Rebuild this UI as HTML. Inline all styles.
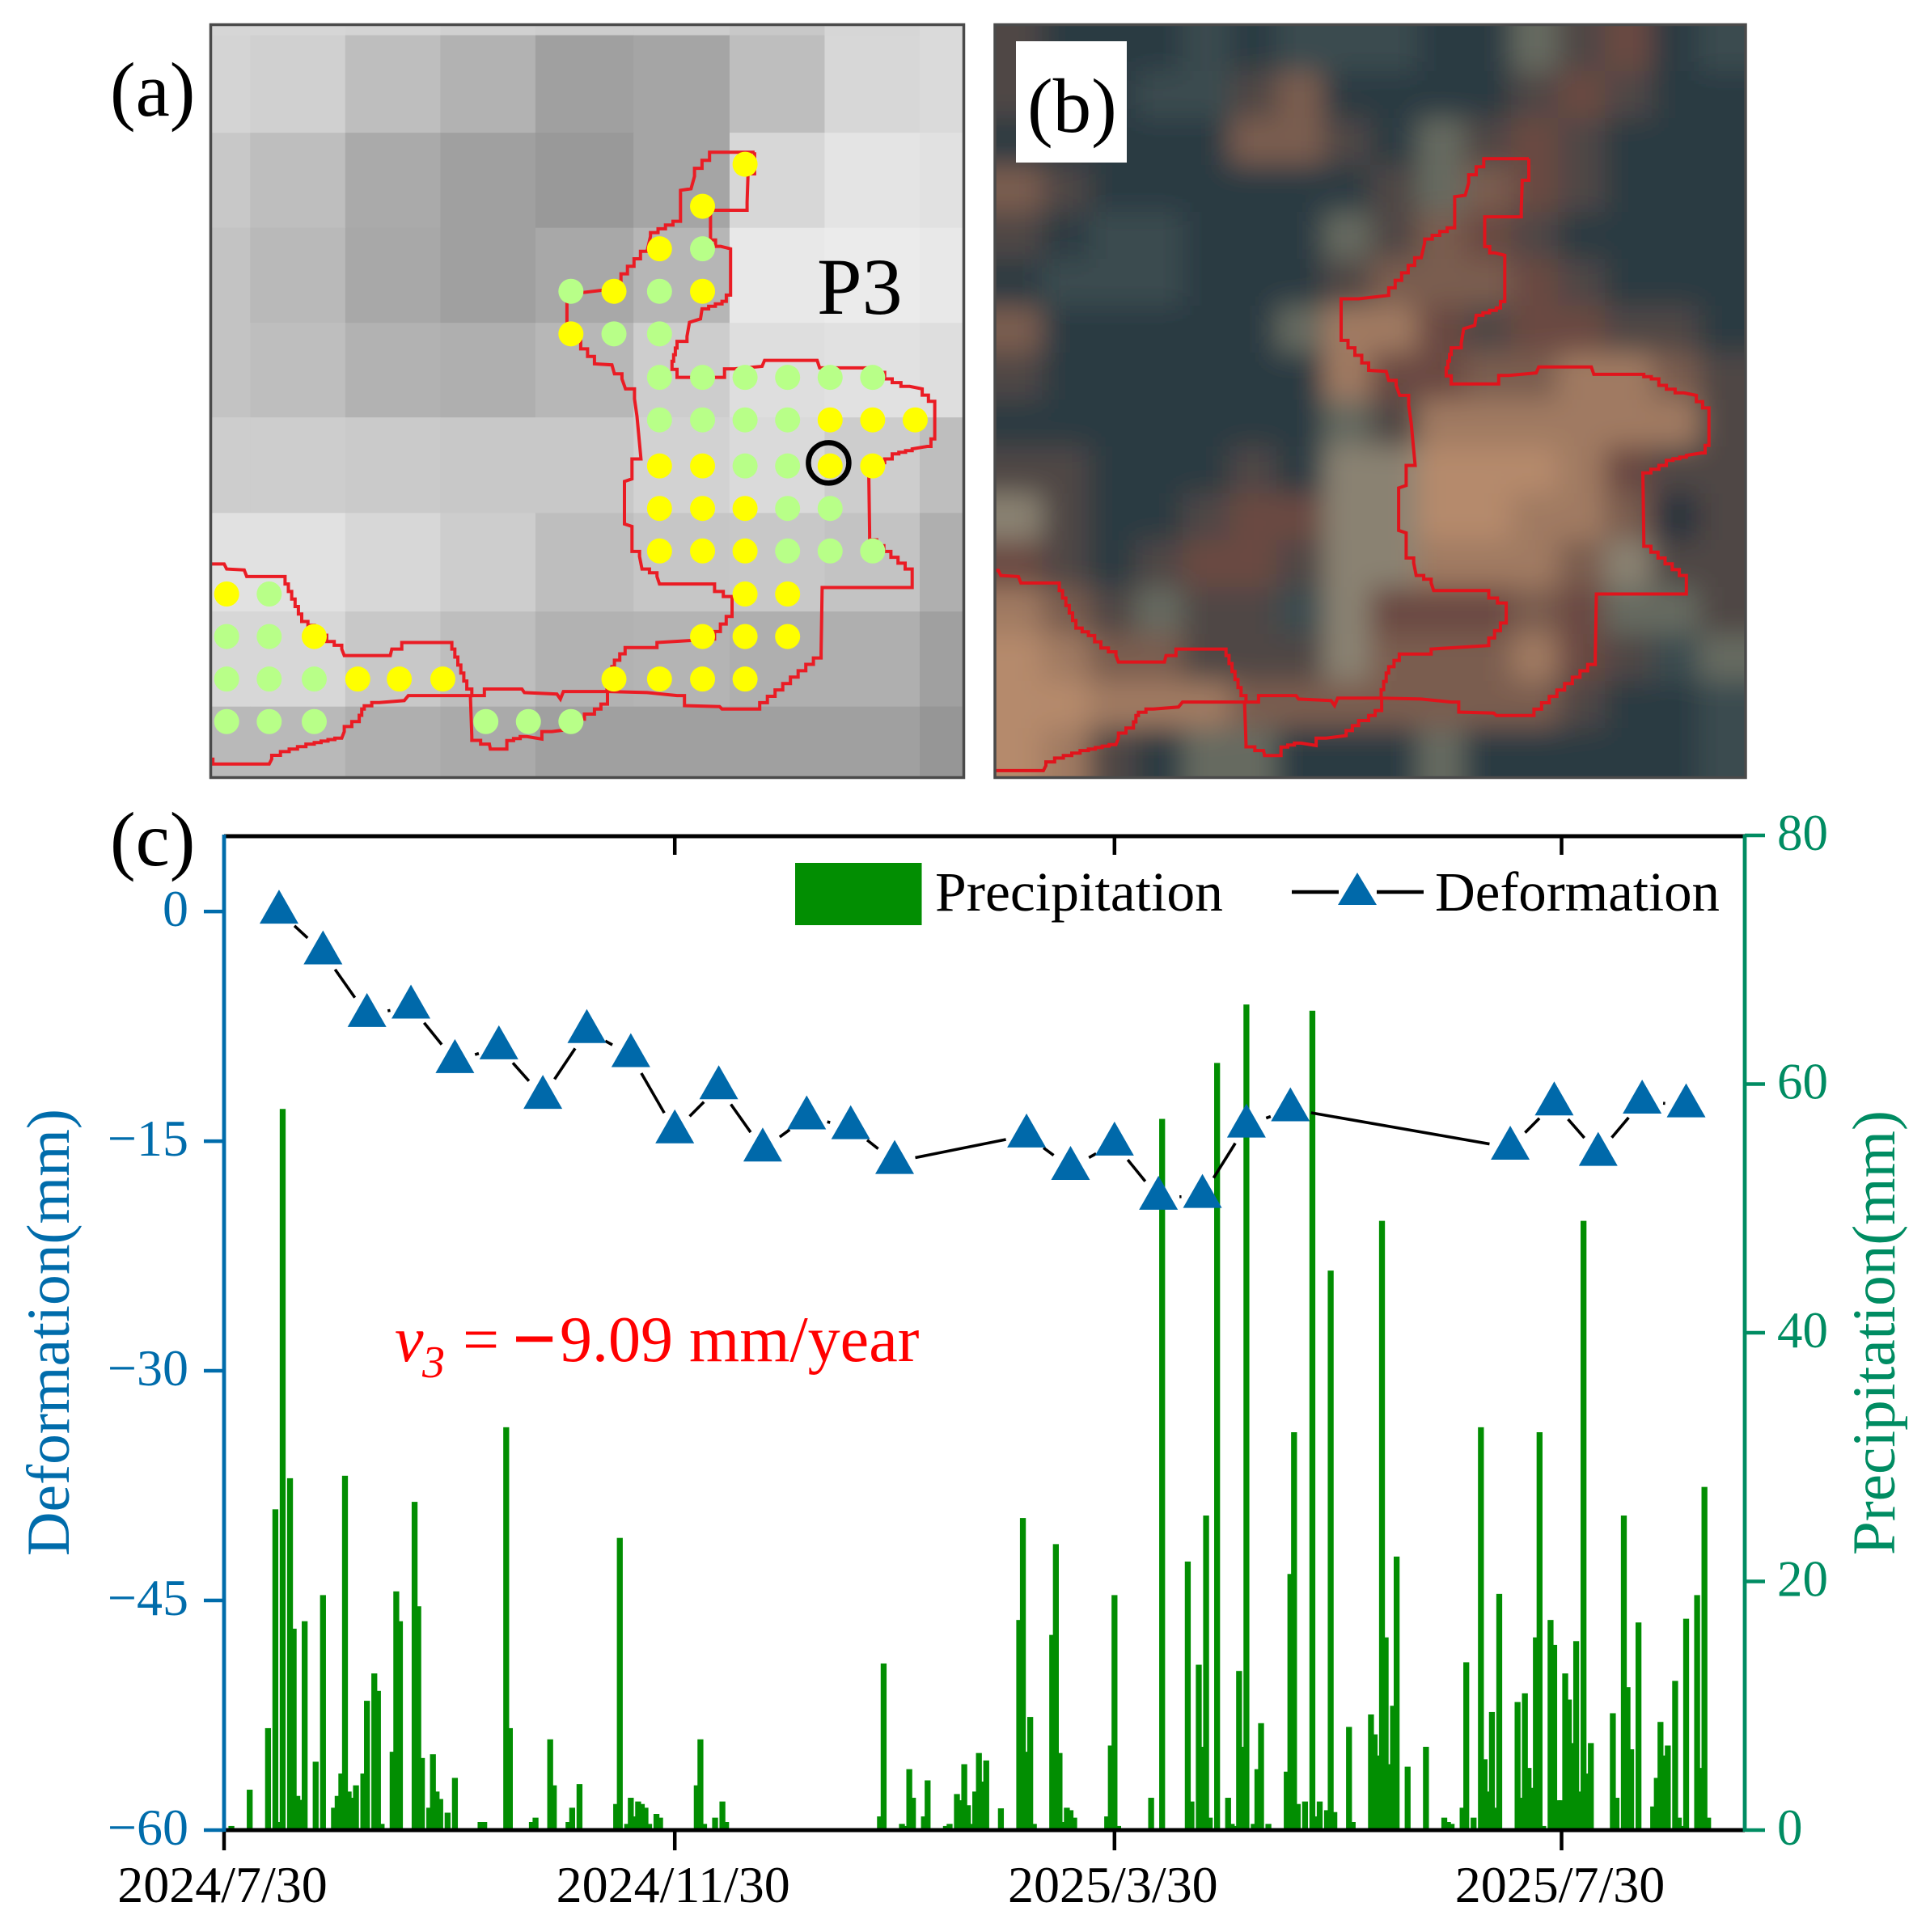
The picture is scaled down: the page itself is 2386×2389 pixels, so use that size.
<!DOCTYPE html>
<html lang="en">
<head>
<meta charset="utf-8">
<title>Landslide point P3: deformation and precipitation</title>
<style>
html,body{margin:0;padding:0;background:#fff;}
svg{display:block;}
text{font-family:"Liberation Serif",serif;}
</style>
</head>
<body>
<svg id="fig" xmlns="http://www.w3.org/2000/svg" width="2386" height="2389" viewBox="0 0 2386 2389">
  <defs>
    <clipPath id="clipA"><rect x="260" y="30" width="932" height="932"/></clipPath>
    <clipPath id="clipB"><rect x="1230" y="30" width="928" height="932"/></clipPath>
    <filter id="soft" filterUnits="userSpaceOnUse" x="1100" y="-100" width="1200" height="1200"><feGaussianBlur stdDeviation="17"/></filter>
  </defs>
  <rect x="0" y="0" width="2386" height="2389" fill="#ffffff"/>

  <g id="panelA">
    <g id="cellsA" clip-path="url(#clipA)"></g>
    <g id="outlineA" clip-path="url(#clipA)"></g>
    <g id="dotsA" clip-path="url(#clipA)"></g>
    <circle cx="1024.4" cy="572.4" r="25" fill="none" stroke="#000" stroke-width="6.5"/>
    <rect x="260.5" y="30.5" width="931" height="931" fill="none" stroke="#4a4a4a" stroke-width="3.5"/>
    <text x="1010" y="388" font-size="100" fill="#000">P3</text>
    <text x="136" y="143" font-size="95" fill="#000">(a)</text>
  </g>

  <g id="panelB">
    <g clip-path="url(#clipB)">
      <g id="cellsB" filter="url(#soft)"></g>
    </g>
    <g id="outlineB" clip-path="url(#clipB)"></g>
    <rect x="1230" y="30.5" width="928" height="931" fill="none" stroke="#4a4a4a" stroke-width="3.5"/>
    <rect x="1256" y="51" width="137" height="150" fill="#ffffff"/>
    <text x="1270" y="163" font-size="95" fill="#000">(b)</text>
  </g>

  <g id="panelC">
    <text x="136" y="1070" font-size="95" fill="#000">(c)</text>
    <g id="bars"></g>
    <g id="defoLine"></g>
    <g id="defoMarks"></g>
    <g id="axes"></g>
    <text transform="translate(85,1924) rotate(-90)" font-size="75" fill="#006cab" textLength="553" lengthAdjust="spacingAndGlyphs">Deformation(mm)</text>
    <text transform="translate(2342,1923) rotate(-90)" font-size="75" fill="#008c62" textLength="550" lengthAdjust="spacingAndGlyphs">Precipitation(mm)</text>
    <text y="1683" font-size="80" fill="#ff0000"><tspan x="488" font-style="italic">v</tspan><tspan x="522" y="1703" font-size="56" font-style="italic">3</tspan><tspan x="572" y="1683">=</tspan><tspan x="633" y="1688" font-size="97" font-weight="bold">−</tspan><tspan x="692" y="1683">9.09</tspan><tspan x="852" y="1683">mm/year</tspan></text>
    <g>
      <rect x="983" y="1067" width="156.5" height="77" fill="#028e02"/>
      <text x="1156" y="1126" font-size="69" fill="#000" textLength="356" lengthAdjust="spacingAndGlyphs">Precipitation</text>
      <line x1="1597" y1="1103" x2="1655" y2="1103" stroke="#000" stroke-width="4.5"/>
      <line x1="1702" y1="1103" x2="1760" y2="1103" stroke="#000" stroke-width="4.5"/>
      <polygon points="1678,1079 1702,1119 1654,1119" fill="#0069aa"/>
      <text x="1774" y="1126" font-size="69" fill="#000" textLength="352" lengthAdjust="spacingAndGlyphs">Deformation</text>
    </g>
  </g>
</svg>

<script>
// ---- chart data ----
const xTickDays = [0, 123, 243, 365];
const xTickLabels = ['2024/7/30', '2024/11/30', '2025/3/30', '2025/7/30'];
const leftTicks = [0, -15, -30, -45, -60];
const leftTickLabels = ['0', '−15', '−30', '−45', '−60'];
const rightTicks = [0, 20, 40, 60, 80];
const rightTickLabels = ['0', '20', '40', '60', '80'];

const defoDays = [15,27,39,51,63,75,87,99,111,123,135,147,159,171,183,219,231,243,255,267,279,291,351,363,375,387,399];
const defoValues = [0,-2.66,-6.75,-6.2,-9.76,-8.86,-12.1,-7.8,-9.37,-14.35,-11.47,-15.54,-13.44,-14.08,-16.35,-14.62,-16.74,-15.15,-18.69,-18.57,-13.97,-12.91,-15.42,-12.53,-15.82,-12.41,-12.65];

const precipDays = [2,7,12,14,15,16,18,19,20,21,22,25,27,30,31,32,33,34,35,36,38,39,41,42,43,46,47,48,52,53,54,56,57,58,59,61,63,70,71,77,78,84,85,89,90,94,95,97,
107,108,110,111,112,113,114,115,116,118,119,129,130,131,134,136,137,179,180,185,186,187,188,191,192,197,198,200,201,202,203,204,205,206,207,208,212,
217,218,219,220,221,226,227,228,229,230,231,232,241,242,243,244,253,256,263,264,266,267,268,269,271,274,275,276,277,278,279,281,282,283,285,290,291,292,293,295,297,298,299,301,302,303,307,308,313,314,315,316,317,318,319,320,
323,328,333,334,335,338,339,341,343,344,345,346,347,348,353,354,355,356,357,358,359,360,362,363,364,365,366,367,368,369,370,371,372,373,379,380,382,383,384,386,390,391,392,393,394,396,397,398,399,402,403,404,405];
const precipValues = [0.33,3.25,8.2,25.8,0.65,58,28.3,16.2,2.75,2.43,16.8,5.5,18.9,1.8,2.75,4.55,28.5,3.1,2.6,3.6,4.55,10.4,12.6,11.2,0.5,6.3,19.2,16.8,26.4,18,5.8,1.8,6.1,3.1,2.5,1.4,4.2,0.65,0.65,32.4,8.2,0.65,1,7.3,3.6,0.65,1.8,3.7,
2.1,23.5,0.5,2.6,1.1,2.3,2.1,1.8,0.5,1.3,1,3.6,7.3,0.5,1,2.3,0.65,1.1,13.4,0.5,0.33,4.9,2.6,1.1,4,0.33,0.5,2.9,2.4,5.3,2,0.5,3.1,6.2,3.9,5.6,1.75,
16.9,25.1,6.3,9.1,0.5,15.7,23,6.2,0.65,1.8,1.6,1,1.1,6.8,18.9,0.33,2.6,57.2,21.6,2.3,13.3,6.7,25.3,1,61.7,2.6,0.5,0.33,12.8,6.7,66.4,0.5,4.9,8.6,0.5,4.7,20.6,32,2.1,2.3,65.9,1.1,2.3,1.6,45,1.45,8.3,0.65,9.3,7.7,6,49,15.5,5.3,10,22,
5.1,6.7,1,0.65,0.5,1.8,13.5,1,32.4,5.7,3.1,9.5,1.8,19,10.3,2.6,11,5,3.4,15.5,32,0.33,16.9,14.9,2.4,2.4,12.6,10.5,7,15.2,3.1,49,4.55,7,9.4,2.6,25.3,11.5,6.5,16.7,1.9,4.2,8.7,6,6.8,12,1,0.33,17,18.9,5,27.6,1];

// ---- map tables (panels a and b) ----
const mosaicX = [33,112,302,492,682,878,1070,1260,1450,1545];
const mosaicY = [12,38,233,423,613,802,993,1190,1380,1530];
const mosaicGray = [
 [214,214,212,208,205,205,200,214,218],
 [212,208,190,178,160,165,190,215,218],
 [200,190,170,160,153,165,215,228,225],
 [195,185,168,160,168,182,232,235,232],
 [195,190,178,175,183,205,222,225,222],
 [205,205,202,200,200,210,218,205,190],
 [225,225,215,205,190,198,200,195,175],
 [215,215,200,190,178,180,175,175,160],
 [185,185,175,170,160,160,160,160,150]
];
const mainOutline = [1120,272,1045,272,1000,320,993,345,972,348,972,410,912,440,905,470,840,545,780,552,745,552,745,635,800,695,835,697,840,715,855,725,862,745,880,765,885,800,893,885,875,885,875,925,860,930,860,1015,875,1020,875,1070,890,1080,895,1105,925,1120,930,1135,1030,1135,1040,1150,1075,1170,1075,1200,1040,1245,925,1252,925,1262,872,1262,840,1300,825,1350,905,1352,965,1358,980,1378,1050,1380,1055,1385,1115,1385,1253,1270,1255,1142,1415,1142,1435,1125,1435,1105,1350,1035,1348,900,1380,885,1395,875,1435,865,1465,860,1480,830,1480,770,1455,745,1430,740,1395,725,1380,712,1350,703,1250,703,1245,688,1140,688,1135,700,1080,705,1060,722,975,722,955,690,965,650,985,640,990,612,1012,605,1015,585,1055,570,1072,545,1072,465,1052,460,1032,435,1032,388,1090,388,1105,372,1107,315,1120,315,1120,272];
const leftOutline = [25,1095,60,1095,65,1105,100,1107,105,1120,175,1120,215,1210,240,1225,265,1250,295,1265,300,1278,392,1278,395,1265,415,1252,500,1252,515,1265,545,1345,555,1358,428,1358,420,1368,370,1372,340,1385,330,1410,300,1430,295,1443,240,1455,190,1470,155,1485,150,1495,50,1495,25,1475];
const smallOutline = [552,1358,580,1358,580,1345,655,1345,660,1352,725,1355,732,1365,738,1350,826,1350,826,1375,800,1395,780,1405,755,1425,715,1430,695,1445,665,1440,625,1452,625,1465,592,1465,590,1455,555,1440,552,1358];
const dotRows = [
 [296,[[1101,'Y']]],
 [380,[[1016,'Y']]],
 [465,[[930,'Y'],[1016,'G']]],
 [550,[[753,'G'],[839,'Y'],[930,'G'],[1016,'Y']]],
 [635,[[753,'Y'],[839,'G'],[930,'G']]],
 [722,[[930,'G'],[1016,'G'],[1101,'G'],[1186,'G'],[1271,'G'],[1356,'G']]],
 [807,[[930,'G'],[1016,'G'],[1101,'G'],[1186,'G'],[1271,'Y'],[1356,'Y'],[1441,'Y']]],
 [899,[[930,'Y'],[1016,'Y'],[1101,'G'],[1186,'G'],[1271,'Y'],[1356,'Y']]],
 [984,[[930,'Y'],[1016,'Y'],[1101,'Y'],[1186,'G'],[1271,'G']]],
 [1069,[[930,'Y'],[1016,'Y'],[1101,'Y'],[1186,'G'],[1271,'G'],[1356,'G']]],
 [1155,[[65,'Y'],[150,'G'],[1101,'Y'],[1186,'Y']]],
 [1240,[[65,'G'],[150,'G'],[240,'Y'],[1016,'Y'],[1101,'Y'],[1186,'Y']]],
 [1325,[[65,'G'],[150,'G'],[240,'G'],[327,'Y'],[410,'Y'],[497,'Y'],[839,'Y'],[930,'Y'],[1016,'Y'],[1101,'Y']]],
 [1410,[[65,'G'],[150,'G'],[240,'G'],[583,'G'],[668,'G'],[753,'G']]]
];
const satPalette = {D:'#2b3a43',d:'#26323c',G:'#3a4c50',M:'#4f4644',B:'#7a5d50',T:'#a07a62',L:'#b58a6c',S:'#8a8272',R:'#6a4a42',H:'#666a60'};
const satRows = [
 'MDDDGDGGGDDHMRDG',
 'MDDGGMBDDDDMRMDD',
 'DDDDDBBMDHMRMDDD',
 'BMDDDDDDMHBRMDDD',
 'MDGGDDDHMBRMDDDD',
 'DGGGDDDMBBBRMDDD',
 'BDDDDDHTTRMRRMMD',
 'MDDDDDDTRRBBTTBM',
 'DDDDDDDHMTTTTTTM',
 'MMDDDMDSSLLLTRMM',
 'SMDDMRRSSLLTTBdM',
 'RMDMRRMSSTTTBSMM',
 'TBMHMMGSRRRBRHHM',
 'LTBBMMMSBBBTRMGH',
 'LLTTTBBBBBBBMDDG',
 'LTMDHHDDDHDDDDDG'
];

// ---- helpers ----
const NS = 'http://www.w3.org/2000/svg';
function mk(tag, parentId, attrs, txt) {
  const el = document.createElementNS(NS, tag);
  for (const k in attrs) el.setAttribute(k, attrs[k]);
  if (txt !== undefined) el.textContent = txt;
  document.getElementById(parentId).appendChild(el);
  return el;
}
// chart scales
const PLOT = {left: 277, right: 2157, top: 1033, bottom: 2263};
const DAY_MAX = 415, LEFT_MIN = -60, LEFT_MAX = 4.97, RIGHT_MAX = 80;
const xDay = d => PLOT.left + d * (PLOT.right - PLOT.left) / DAY_MAX;
const yLeft = v => PLOT.bottom - (v - LEFT_MIN) * (PLOT.bottom - PLOT.top) / (LEFT_MAX - LEFT_MIN);
const yRight = v => PLOT.bottom - v * (PLOT.bottom - PLOT.top) / RIGHT_MAX;

// map transforms
const ZS = 1.6165;
const ax = X => 240 + X / ZS, ay = Y => 20 + Y / ZS;
const bx = X => 1220 + (X - 37) / ZS, by = Y => 20 + (Y + 13) / ZS;

function stairPath(pts, fx, fy) {
  let d = 'M' + fx(pts[0]).toFixed(1) + ' ' + fy(pts[1]).toFixed(1);
  let px = fx(pts[0]), py = fy(pts[1]);
  for (let i = 2; i < pts.length; i += 2) {
    const qx = fx(pts[i]), qy = fy(pts[i + 1]);
    const dx = qx - px, dy = qy - py;
    if (Math.abs(dx) > 5 && Math.abs(dy) > 5) {
      const n = Math.max(1, Math.round(Math.max(Math.abs(dx), Math.abs(dy)) / 9));
      for (let k = 1; k <= n; k++) {
        d += 'L' + (px + dx * k / n).toFixed(1) + ' ' + (py + dy * (k - 1) / n).toFixed(1);
        d += 'L' + (px + dx * k / n).toFixed(1) + ' ' + (py + dy * k / n).toFixed(1);
      }
    } else {
      d += 'L' + qx.toFixed(1) + ' ' + qy.toFixed(1);
    }
    px = qx; py = qy;
  }
  return d;
}

// ---- panel a ----
mosaicGray.forEach((row, r) => row.forEach((g, c) => {
  const cell = mk('rect', 'cellsA', {x: ax(mosaicX[c]), y: ay(mosaicY[r]), width: (mosaicX[c+1]-mosaicX[c])/ZS + 0.5, height: (mosaicY[r+1]-mosaicY[r])/ZS + 0.5, fill: 'rgb('+g+','+g+','+g+')'});
  
  
}));
[mainOutline, leftOutline, smallOutline].forEach(pts => {
  const pa = mk('path', 'outlineA', {d: stairPath(pts, ax, ay), fill: 'none', stroke: '#ea1c24', 'stroke-width': 4});
  
  
  const pb = mk('path', 'outlineB', {d: stairPath(pts, bx, by), fill: 'none', stroke: '#e0141c', 'stroke-width': 4});
  
  
});
dotRows.forEach(row => row[1].forEach(p => {
  const dot = mk('circle', 'dotsA', {cx: ax(p[0]), cy: ay(row[0]), r: 15.5, fill: p[1] === 'Y' ? '#ffff00' : '#b8ff88'});
  
  
}));

// ---- panel b ----
mk('rect', 'cellsB', {x: 1130, y: -70, width: 1130, height: 1130, fill: '#2f3f47'});
satRows.forEach((row, r) => {
  for (let c = 0; c < row.length; c++) {
    const cs = 58;
    let x = 1230 + c * cs, y = 30 + r * cs + (r ? 0 : -80), w = cs + 1, h = cs + 1 + (r ? 0 : 80);
    if (c === 0) { x -= 80; w += 80; }
    if (c === row.length - 1) w += 80;
    if (r === satRows.length - 1) h += 80;
    const cell = mk('rect', 'cellsB', {x: x, y: y, width: w, height: h, fill: satPalette[row[c]]});
    
    
  }
});

// ---- panel c: bars ----
const BAR_W = 7.3;
precipDays.forEach((d, i) => {
  const top = yRight(precipValues[i]);
  const bar = mk('rect', 'bars', {x: xDay(d) - BAR_W / 2, y: top, width: BAR_W, height: yRight(0) - top, fill: '#028e02'});
  
  
});

// ---- panel c: deformation line with gaps around markers ----
const GAP = 26;
for (let i = 0; i + 1 < defoDays.length; i++) {
  const x1 = xDay(defoDays[i]), y1 = yLeft(defoValues[i]);
  const x2 = xDay(defoDays[i + 1]), y2 = yLeft(defoValues[i + 1]);
  const len = Math.hypot(x2 - x1, y2 - y1);
  if (len <= 2 * GAP) continue;
  const ux = (x2 - x1) / len, uy = (y2 - y1) / len;
  const seg = mk('line', 'defoLine', {x1: x1 + ux * GAP, y1: y1 + uy * GAP, x2: x2 - ux * GAP, y2: y2 - uy * GAP, stroke: '#000', 'stroke-width': 3.6});
  
  
}
defoDays.forEach((d, i) => {
  const x = xDay(d), y = yLeft(defoValues[i]);
  const tri = mk('polygon', 'defoMarks', {points: x + ',' + (y - 27) + ' ' + (x + 24) + ',' + (y + 15) + ' ' + (x - 24) + ',' + (y + 15), fill: '#0069aa'});
  
  
});

// ---- panel c: axes ----
const BLUE = '#006cab', TEAL = '#008c62';
const topAxis = mk('line', 'axes', {x1: PLOT.left, y1: PLOT.top + 1, x2: PLOT.right, y2: PLOT.top + 1, stroke: '#000', 'stroke-width': 5});


const bottomAxis = mk('line', 'axes', {x1: PLOT.left, y1: PLOT.bottom, x2: PLOT.right, y2: PLOT.bottom, stroke: '#000', 'stroke-width': 5});


const leftAxis = mk('line', 'axes', {x1: PLOT.left, y1: PLOT.top - 1, x2: PLOT.left, y2: PLOT.bottom + 2, stroke: BLUE, 'stroke-width': 4.8});


const rightAxis = mk('line', 'axes', {x1: PLOT.right, y1: PLOT.top - 1, x2: PLOT.right, y2: PLOT.bottom + 2, stroke: TEAL, 'stroke-width': 4.8});



xTickDays.forEach((d, i) => {
  const x = xDay(d);
  const tick = mk('line', 'axes', {x1: x, y1: PLOT.bottom + 2, x2: x, y2: 2288, stroke: '#000', 'stroke-width': 4.5});
  
  
  if (i > 0) {
    const topTick = mk('line', 'axes', {x1: x, y1: PLOT.top, x2: x, y2: PLOT.top + 24, stroke: '#000', 'stroke-width': 4.5});
    
    
  }
  const label = mk('text', 'axes', {x: x - 2, y: 2352, 'font-size': 64, 'text-anchor': 'middle', fill: '#000'}, xTickLabels[i]);
  
  
});
leftTicks.forEach((v, i) => {
  const y = yLeft(v);
  const tick = mk('line', 'axes', {x1: 252, y1: y, x2: PLOT.left, y2: y, stroke: BLUE, 'stroke-width': 4.5});
  
  
  const label = mk('text', 'axes', {x: 233, y: y + 18, 'font-size': 64, 'text-anchor': 'end', fill: BLUE}, leftTickLabels[i]);
  
  
});
rightTicks.forEach((v, i) => {
  const y = yRight(v);
  const tick = mk('line', 'axes', {x1: PLOT.right, y1: y, x2: 2182, y2: y, stroke: TEAL, 'stroke-width': 4.5});
  
  
  const label = mk('text', 'axes', {x: 2197, y: y + 18, 'font-size': 63, fill: TEAL}, rightTickLabels[i]);
  
  
});
</script>
</body>
</html>
